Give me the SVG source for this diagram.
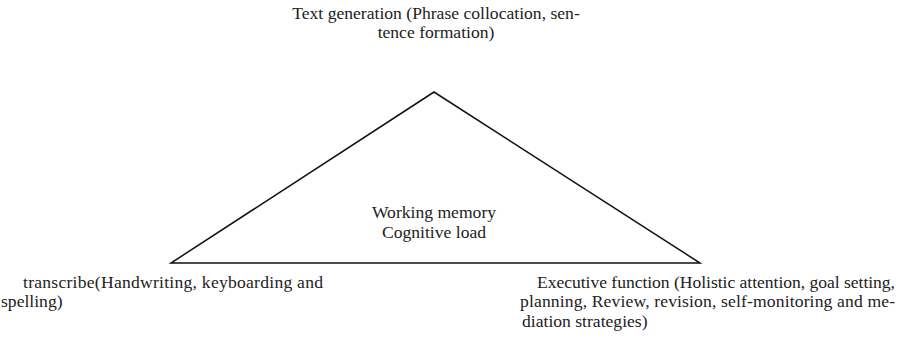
<svg xmlns="http://www.w3.org/2000/svg" width="897" height="338" viewBox="0 0 897 338">
  <style>
    text { font-family: "Liberation Serif", "Times New Roman", serif; font-size: 17.6px; fill: #222; }
    .mid { text-anchor: middle; }
    .edge { fill: none; stroke: #111; stroke-width: 1.5; stroke-linejoin: miter; }
  </style>
  <rect width="897" height="338" fill="#fff"/>
  <g id="connectors">
    <polygon class="edge" points="434,92 171,263 700,263"/>
  </g>
  <g id="node-text-generation">
    <text class="mid" x="436" y="19">Text generation (Phrase collocation, sen-</text>
    <text class="mid" x="436" y="38">tence formation)</text>
  </g>
  <g id="node-center">
    <text class="mid" x="434" y="218">Working memory</text>
    <text class="mid" x="434" y="238">Cognitive load</text>
  </g>
  <g id="node-transcribe">
    <text x="23" y="288" textLength="300" lengthAdjust="spacing">transcribe(Handwriting, keyboarding and</text>
    <text x="1" y="307">spelling)</text>
  </g>
  <g id="node-executive">
    <text x="537" y="288" textLength="358" lengthAdjust="spacing">Executive function (Holistic attention, goal setting,</text>
    <text x="520" y="307" textLength="375" lengthAdjust="spacing">planning, Review, revision, self-monitoring and me-</text>
    <text x="522" y="327">diation strategies)</text>
  </g>
</svg>
